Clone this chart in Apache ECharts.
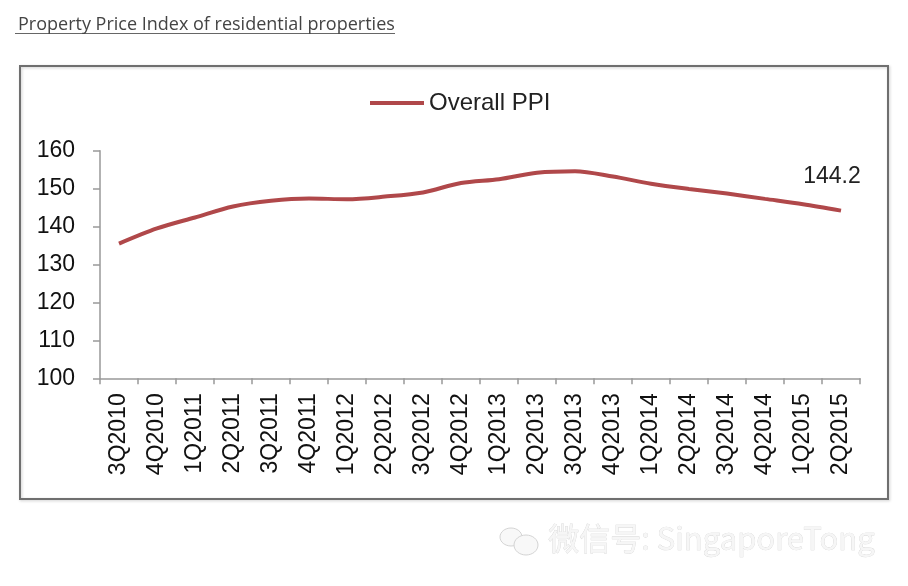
<!DOCTYPE html>
<html><head><meta charset="utf-8">
<script src="https://cdn.jsdelivr.net/npm/echarts@6/dist/echarts.min.js"></script>
<style>html,body{margin:0;padding:0;background:#fff}#c{width:908px;height:586px}</style>
</head><body><div id="c"></div>
<script>
const categories = ['3Q2010','4Q2010','1Q2011','2Q2011','3Q2011','4Q2011','1Q2012','2Q2012','3Q2012','4Q2012','1Q2013','2Q2013','3Q2013','4Q2013','1Q2014','2Q2014','3Q2014','4Q2014','1Q2015','2Q2015'];
const ppi = [135.5,139.5,142.4,145.3,146.8,147.4,147.2,147.9,149.0,151.5,152.5,154.2,154.6,153.2,151.3,149.9,148.7,147.3,145.9,144.2];
const yTicks = {min:100, max:160, interval:10};
const seriesName = 'Overall PPI';
const titleText = 'Property Price Index of residential properties';
const watermark = '微信号: SingaporeTong';

const chart = echarts.init(document.getElementById('c'));
chart.setOption({
  animation:false,
  backgroundColor:'#fff',
  title:{text:titleText, left:13, top:11, textStyle:{fontFamily:'Open Sans', fontSize:18, fontWeight:'normal', color:'#444'}},
  graphic:[
    {type:'rect', shape:{x:20,y:66,width:868,height:433}, style:{fill:'none', stroke:'#6f6f6f', lineWidth:2, shadowColor:'rgba(0,0,0,0.2)', shadowBlur:3, shadowOffsetX:1, shadowOffsetY:1}, z:-1},
    {type:'line', shape:{x1:15,y1:33.5,x2:395,y2:33.5}, style:{stroke:'#666', lineWidth:1}},
    {type:'ellipse', shape:{cx:511, cy:537, rx:11, ry:9}, style:{fill:'#f8f8f8', stroke:'#d4d4d4', lineWidth:1}},
    {type:'ellipse', shape:{cx:526, cy:545, rx:12, ry:10}, style:{fill:'#f8f8f8', stroke:'#d4d4d4', lineWidth:1}},
    {type:'text', left:548, top:522, style:{text:watermark, fontFamily:'Noto Sans CJK SC', fontSize:31, fill:'#f6f6f6', stroke:'#d2d2d2', lineWidth:0.6}}
  ],
  legend:{data:[seriesName], top:86, left:365, itemWidth:54, itemHeight:4, itemGap:2,
    icon:'rect', textStyle:{fontFamily:'Liberation Sans', fontSize:24, color:'#222'}},
  grid:{left:100, right:48, top:150.7, bottom:207.7},
  xAxis:{type:'category', data:categories, boundaryGap:true,
    axisLine:{lineStyle:{color:'#999', width:1.5}},
    axisTick:{show:true, alignWithLabel:false, length:6, lineStyle:{color:'#999', width:1.5}},
    axisLabel:{rotate:90, interval:0, margin:15, fontFamily:'Liberation Sans', fontSize:23, color:'#111'}},
  yAxis:{type:'value', min:yTicks.min, max:yTicks.max, interval:yTicks.interval,
    splitLine:{show:false},
    axisLine:{show:true, lineStyle:{color:'#999', width:1.5}},
    axisTick:{show:true, length:7, lineStyle:{color:'#999', width:1.5}},
    axisLabel:{margin:25, fontFamily:'Liberation Sans', fontSize:23, color:'#111'}},
  series:[{name:seriesName, type:'line',
    data:ppi.map((v,i)=> i===ppi.length-1 ? {value:v, label:{show:true, position:'top', offset:[-9,-17], formatter:'{c}', fontFamily:'Liberation Sans', fontSize:23, color:'#222'}} : v),
    smooth:0.3, showSymbol:true, symbol:'circle', symbolSize:0.1,
    label:{show:false},
    lineStyle:{color:'#b0484a', width:4}, itemStyle:{color:'#b0484a'}}]
});
</script></body></html>
